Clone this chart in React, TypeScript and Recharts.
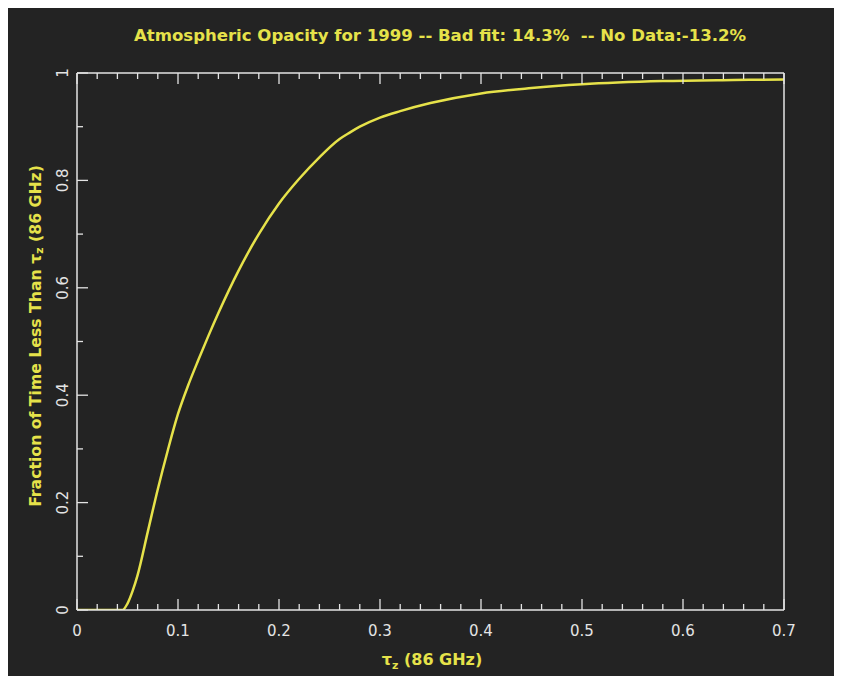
import { LineChart, Line, XAxis, YAxis } from 'recharts';

// tau_z (86 GHz) and cumulative fraction of time
const tau = [0, 0.02, 0.04, 0.045, 0.05, 0.055, 0.06, 0.07, 0.08, 0.09, 0.1, 0.11, 0.12, 0.13, 0.14, 0.16, 0.18, 0.2, 0.22, 0.24, 0.26, 0.27, 0.28, 0.3, 0.32, 0.35, 0.4, 0.45, 0.5, 0.58, 0.65, 0.7];
const fraction = [0, 0, 0, 0, 0.012, 0.035, 0.065, 0.145, 0.225, 0.298, 0.365, 0.418, 0.465, 0.51, 0.553, 0.632, 0.7, 0.757, 0.803, 0.843, 0.877, 0.889, 0.9, 0.917, 0.929, 0.944, 0.962, 0.972, 0.979, 0.985, 0.987, 0.988];

const xTicks = [0, 0.02, 0.04, 0.06, 0.08, 0.1, 0.12, 0.14, 0.16, 0.18, 0.2, 0.22, 0.24, 0.26, 0.28, 0.3, 0.32, 0.34, 0.36, 0.38, 0.4, 0.42, 0.44, 0.46, 0.48, 0.5, 0.52, 0.54, 0.56, 0.58, 0.6, 0.62, 0.64, 0.66, 0.68, 0.7];
const yTicks = [0, 0.1, 0.2, 0.3, 0.4, 0.5, 0.6, 0.7, 0.8, 0.9, 1];

const title = 'Atmospheric Opacity for 1999 -- Bad fit: 14.3%  -- No Data:-13.2%';

const data = tau.map((t, i) => ({ tau: t, frac: fraction[i] }));

const YELLOW = '#e6e24a';
const WHITE = '#e4e4e4';
const FONT = '"DejaVu Sans", sans-serif';

const isMajor = (v: number, step: number) => Math.abs(v / step - Math.round(v / step)) < 1e-6;
const fmt = (v: number) => (v === 0 ? '0' : String(v));

const BottomTick = (props: any) => {
  const { x, y, payload } = props;
  const major = isMajor(payload.value, 0.1);
  return (
    <g>
      <line x1={x} y1={y} x2={x} y2={y - (major ? 11 : 6)} stroke={WHITE} strokeWidth={1.3} />
      {major && (
        <text x={x} y={y + 26} textAnchor="middle" fill={WHITE} fontFamily={FONT} fontSize={15}>
          {fmt(payload.value)}
        </text>
      )}
    </g>
  );
};

const TopTick = (props: any) => {
  const { x, y, payload } = props;
  const major = isMajor(payload.value, 0.1);
  return <line x1={x} y1={y} x2={x} y2={y + (major ? 11 : 6)} stroke={WHITE} strokeWidth={1.3} />;
};

const LeftTick = (props: any) => {
  const { x, y, payload } = props;
  const major = isMajor(payload.value, 0.2);
  const lx = x - 14;
  return (
    <g>
      <line x1={x} y1={y} x2={x + (major ? 11 : 6)} y2={y} stroke={WHITE} strokeWidth={1.3} />
      {major && (
        <text
          x={lx}
          y={y}
          transform={`rotate(-90 ${lx} ${y})`}
          textAnchor="middle"
          dominantBaseline="central"
          fill={WHITE}
          fontFamily={FONT}
          fontSize={15}
        >
          {fmt(payload.value)}
        </text>
      )}
    </g>
  );
};

const RightTick = (props: any) => {
  const { x, y, payload } = props;
  const major = isMajor(payload.value, 0.2);
  return <line x1={x} y1={y} x2={x - (major ? 11 : 6)} y2={y} stroke={WHITE} strokeWidth={1.3} />;
};

export default function App() {
  return (
    <div style={{ width: 826, height: 668, background: '#232323' }}>
      <LineChart width={826} height={668} data={data} margin={{ top: 64, right: 49, bottom: 65, left: 68 }}>
        <XAxis
          dataKey="tau"
          type="number"
          domain={[0, 0.7]}
          ticks={xTicks}
          interval={0}
          height={1}
          tickSize={0}
          tickMargin={0}
          tickLine={false}
          tick={BottomTick}
          axisLine={{ stroke: WHITE, strokeWidth: 1.5 }}
          allowDataOverflow
        />
        <XAxis
          xAxisId="top"
          orientation="top"
          dataKey="tau"
          type="number"
          domain={[0, 0.7]}
          ticks={xTicks}
          interval={0}
          height={1}
          tickSize={0}
          tickMargin={0}
          tickLine={false}
          tick={TopTick}
          axisLine={{ stroke: WHITE, strokeWidth: 1.5 }}
        />
        <YAxis
          type="number"
          domain={[0, 1]}
          ticks={yTicks}
          interval={0}
          width={1}
          tickSize={0}
          tickMargin={0}
          tickLine={false}
          tick={LeftTick}
          axisLine={{ stroke: WHITE, strokeWidth: 1.5 }}
          allowDataOverflow
        />
        <YAxis
          yAxisId="right"
          orientation="right"
          type="number"
          domain={[0, 1]}
          ticks={yTicks}
          interval={0}
          width={1}
          tickSize={0}
          tickMargin={0}
          tickLine={false}
          tick={RightTick}
          axisLine={{ stroke: WHITE, strokeWidth: 1.5 }}
        />
        <Line
          type="monotone"
          dataKey="frac"
          stroke={YELLOW}
          strokeWidth={2.5}
          dot={false}
          isAnimationActive={false}
        />
        <text
          x={432}
          y={33}
          textAnchor="middle"
          fill={YELLOW}
          fontFamily={FONT}
          fontSize={16}
          fontWeight="bold"
          textLength={612}
          lengthAdjust="spacingAndGlyphs"
          style={{ whiteSpace: 'pre' }}
        >
          {title}
        </text>
        <text x={424} y={657} textAnchor="middle" fill={YELLOW} fontFamily={FONT} fontSize={16} fontWeight="bold">
          τ<tspan fontSize={11} dy={4}>z</tspan>
          <tspan dy={-4}> (86 GHz)</tspan>
        </text>
        <text
          x={27}
          y={328}
          transform="rotate(-90 27 328)"
          textAnchor="middle"
          dominantBaseline="central"
          fill={YELLOW}
          fontFamily={FONT}
          fontSize={15.7}
          fontWeight="bold"
        >
          Fraction of Time Less Than τ<tspan fontSize={11} dy={4}>z</tspan>
          <tspan dy={-4}> (86 GHz)</tspan>
        </text>
      </LineChart>
    </div>
  );
}
